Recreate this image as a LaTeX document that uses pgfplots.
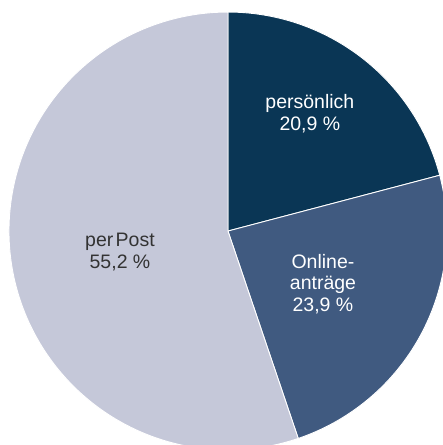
\documentclass[border=0pt]{standalone}
\usepackage{pgfplots}
\usepackage{pgfplotstable}
\pgfplotsset{compat=1.18}
\usepackage{fontspec}
\setmainfont{Liberation Sans}
\definecolor{cdark}{HTML}{0A3655}
\definecolor{cmid}{HTML}{405A80}
\definecolor{clight}{HTML}{C5C8D9}
\pgfplotstableread{
label value
persoenlich 20.9
online 23.9
post 55.2
}\piedata
\begin{document}
\begin{tikzpicture}
\pgfplotstablegetelem{0}{value}\of\piedata \let\va\pgfplotsretval
\pgfplotstablegetelem{1}{value}\of\piedata \let\vb\pgfplotsretval
\pgfplotstablegetelem{2}{value}\of\piedata \let\vc\pgfplotsretval
\pgfmathsetmacro{\aA}{90}
\pgfmathsetmacro{\aB}{90-3.6*\va}
\pgfmathsetmacro{\aC}{\aB-3.6*\vb}
\pgfmathsetmacro{\aD}{\aC-3.6*\vc}
\begin{axis}[
  hide axis, scale only axis,
  width=443pt, height=445pt,
  xmin=-1.041, xmax=0.982, ymin=-0.977, ymax=1.055,
  font=\fontsize{19.5}{21.5}\selectfont,
]
\addplot[fill=cdark, draw=white, line width=0.9pt, domain=\aB:\aA, samples=120] ({cos(x)},{sin(x)}) -- (axis cs:0,0) -- cycle;
\addplot[fill=cmid, draw=white, line width=0.9pt, domain=\aC:\aB, samples=120] ({cos(x)},{sin(x)}) -- (axis cs:0,0) -- cycle;
\addplot[fill=clight, draw=white, line width=0.9pt, domain=\aD:\aC, samples=200] ({cos(x)},{sin(x)}) -- (axis cs:0,0) -- cycle;
\node[white, align=center] at (axis cs:0.374,0.535) {persönlich\\20,9 \%};
\node[white, align=center] at (axis cs:0.434,-0.242) {Online-\\anträge\\23,9 \%};
\node[black!80, align=center] at (axis cs:-0.493,-0.096) {per\hspace{0.12em}Post\\55,2 \%};
\path (rel axis cs:0,0) rectangle (rel axis cs:1,1);
\end{axis}
\end{tikzpicture}
\end{document}
